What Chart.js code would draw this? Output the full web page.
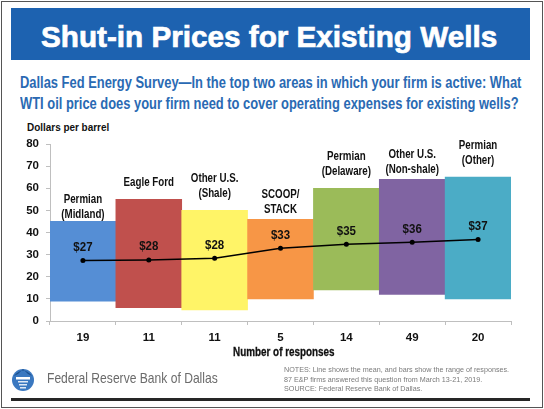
<!DOCTYPE html>
<html>
<head>
<meta charset="utf-8">
<script src="https://cdn.jsdelivr.net/npm/chart.js@4.4.1/dist/chart.umd.min.js"></script>
<style>
  html, body { margin: 0; padding: 0; background: #fff; }
  #page { position: relative; width: 544px; height: 409px; overflow: hidden;
          font-family: 'Liberation Sans', Arial, sans-serif; }
  #page div { white-space: nowrap; }
  #frame { position: absolute; left: 1px; top: 1px; width: 540px; height: 405px; border: 1px solid #555; }
  #banner { position: absolute; left: 11px; top: 8px; width: 519px; height: 52px; background: #1d62b0; }
  #title { position: absolute; left: 41px; top: 11px; color: #fff; font-weight: bold; font-size: 30px;
           line-height: 52px; -webkit-text-stroke: 0.7px #fff; }
  #sub { position: absolute; left: 20px; top: 72px; color: #2a6ab3; font-weight: bold; font-size: 16px;
         line-height: 21px; }
  #ytitle { position: absolute; left: 27px; top: 120px; font-weight: bold; font-size: 11.5px; line-height: 14px; color: #111; }
  #xtitle { position: absolute; left: 233px; top: 344px; font-weight: bold; font-size: 12.5px; line-height: 16px; color: #111;
            -webkit-text-stroke: 0.3px #111; }
  #bank { position: absolute; left: 47px; top: 370px; font-size: 14.5px; color: #6b6b6b; line-height: 17px; }
  #notes { position: absolute; left: 284px; top: 365px; font-size: 7px; color: #7a7a7a; line-height: 9.5px; }
  #rule { position: absolute; left: 11px; top: 398px; width: 519px; height: 3px; background: #262626; }
  #logo { position: absolute; left: 10px; top: 365px; }
  #chart { position: absolute; left: 0; top: 0; }
</style>
</head>
<body>
<div id="page">
  <div id="frame"></div>
  <div id="banner"></div>
  <div id="title">Shut-in Prices for Existing Wells</div>
  <div id="sub">Dallas Fed Energy Survey—In the top two areas in which your firm is active: What<br>WTI oil price does your firm need to cover operating expenses for existing wells?</div>
  <div id="ytitle">Dollars per barrel</div>
  <canvas id="chart" width="544" height="409"></canvas>
  <div id="xtitle">Number of responses</div>
  <svg id="logo" width="26" height="28" viewBox="0 0 26 28">
    <circle cx="13" cy="15" r="11" fill="#3a78c0"/>
    <path d="M4 11 Q13 0 22 11 L18 9 L13 4 L8 9 Z" fill="#1b4f8c"/>
    <rect x="6" y="12" width="14" height="2.5" fill="#fff"/>
    <rect x="8" y="16" width="10" height="1.5" fill="#dfe9f5"/>
    <rect x="9" y="19" width="8" height="1.5" fill="#dfe9f5"/>
    <rect x="10" y="22" width="6" height="1.5" fill="#dfe9f5"/>
  </svg>
  <div id="bank">Federal Reserve Bank of Dallas</div>
  <div id="notes">NOTES: Line shows the mean, and bars show the range of responses.<br>87 E&amp;P firms answered this question from March 13-21, 2019.<br>SOURCE: Federal Reserve Bank of Dallas.</div>
  <div id="rule"></div>
</div>
<script>
// areas, as printed above each bar
const areaNames = [
  ["Permian", "(Midland)"],
  ["Eagle Ford"],
  ["Other U.S.", "(Shale)"],
  ["SCOOP/", "STACK"],
  ["Permian", "(Delaware)"],
  ["Other U.S.", "(Non-shale)"],
  ["Permian", "(Other)"]
]
const responses = ["19", "11", "11", "5", "14", "49", "20"]
const rangeLow = [9, 6, 5, 10, 14, 12, 10]
const rangeHigh = [45, 55, 50, 46, 60, 64, 65]
const meanPrice = [27.3, 27.6, 28.4, 32.9, 34.7, 35.6, 36.8]
const meanLabels = ["$27", "$28", "$28", "$33", "$35", "$36", "$37"]
const yTicks = [0, 10, 20, 30, 40, 50, 60, 70, 80]

const barColors = ["#558ed5", "#c0504d", "#fff467", "#f79646", "#9bbb59", "#8064a2", "#4bacc6"]
// space between bar top and the area name above it
const nameGap = [7, 17, 17, 10, 17, 10, 17]
const font = "'Liberation Sans', Arial, sans-serif"

// squeeze html text to the width it has in the original
function fit(id, w) {
  const el = document.getElementById(id)
  el.style.transformOrigin = "left top"
  el.style.transform = `scaleX(${w / el.scrollWidth})`
}
fit("title", 456)
fit("sub", 501)
fit("ytitle", 82)
fit("xtitle", 102)
fit("bank", 171)
fit("notes", 225)

function narrowText(ctx, t, x, y, sx) {
  ctx.save()
  ctx.translate(x, y)
  ctx.scale(sx, 1)
  ctx.fillText(t, 0, 0)
  ctx.restore()
}

const labelPlugin = {
  id: "labels",
  afterDatasetsDraw(chart) {
    const ctx = chart.ctx
    const x = chart.scales.x
    const y = chart.scales.y
    ctx.save()
    ctx.fillStyle = "#111"
    ctx.textAlign = "center"
    ctx.textBaseline = "middle"
    ctx.font = "bold 12.5px " + font
    areaNames.forEach((lines, i) => {
      const cx = x.getPixelForValue(i)
      const top = y.getPixelForValue(rangeHigh[i]) - nameGap[i]
      lines.forEach((t, j) => {
        narrowText(ctx, t, cx, top - (lines.length - 1 - j) * 15, 0.78)
      })
    })
    ctx.font = "bold 12.5px " + font
    meanLabels.forEach((t, i) => {
      narrowText(ctx, t, x.getPixelForValue(i), y.getPixelForValue(meanPrice[i]) - 13, 0.92)
    })
    ctx.restore()
  }
}

new Chart(document.getElementById("chart"), {
  type: "bar",
  data: {
    labels: responses,
    datasets: [
      {
        type: "line",
        data: meanPrice,
        borderColor: "#000",
        borderWidth: 1.5,
        pointRadius: 2.5,
        pointBackgroundColor: "#000",
        pointBorderWidth: 0,
        tension: 0,
        order: 0
      },
      {
        data: rangeLow.map((lo, i) => [lo, rangeHigh[i]]),
        backgroundColor: barColors,
        borderWidth: 0,
        barPercentage: 1,
        categoryPercentage: 1,
        order: 1
      }
    ]
  },
  options: {
    responsive: false,
    animation: false,
    layout: { padding: { left: 0, top: 144, right: 33, bottom: 58 } },
    plugins: { legend: { display: false }, tooltip: { enabled: false } },
    scales: {
      x: {
        afterFit: (s) => { s.height = 30 },
        grid: { drawOnChartArea: false, tickLength: 4, color: "#bfbfbf" },
        border: { color: "#bfbfbf" },
        ticks: { color: "#111", padding: 6, font: { family: font, size: 11.5, weight: "bold" } }
      },
      y: {
        min: 0,
        max: 80,
        afterFit: (s) => { s.width = 50 },
        afterBuildTicks: (s) => { s.ticks = yTicks.map(v => ({ value: v })) },
        grid: { drawOnChartArea: false, tickLength: 4, color: "#bfbfbf" },
        border: { color: "#bfbfbf" },
        ticks: { color: "#111", padding: 7, font: { family: font, size: 11.5, weight: "bold" } }
      }
    }
  },
  plugins: [labelPlugin]
})
</script>
</body>
</html>
